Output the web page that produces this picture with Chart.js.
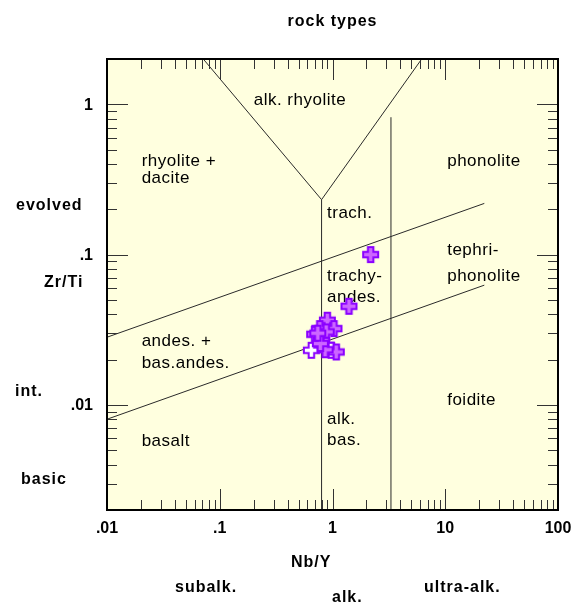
<!DOCTYPE html>
<html>
<head>
<meta charset="utf-8">
<script src="https://cdn.jsdelivr.net/npm/chart.js@4/dist/chart.umd.min.js"></script>
<style>
  html, body { margin: 0; padding: 0; background: #fff; }
  #wrap { width: 575px; height: 606px; }
</style>
</head>
<body>
<div id="wrap"><canvas id="rockChart" width="575" height="606"></canvas></div>
<script>
// samples (Nb/Y vs Zr/Ti)
const nbY    = [2.18, 1.40, 0.90, 0.771, 1.03, 0.88, 0.695, 0.796, 0.649, 0.88, 0.975, 1.08, 0.86, 0.78, 0.74];
const zrTi   = [0.100, 0.0453, 0.0366, 0.0322, 0.0322, 0.0306, 0.0295, 0.0269, 0.0231, 0.0249, 0.0231, 0.0225, 0.0233, 0.0256, 0.0300];
const openPt = [false, false, false, false, false, false, false, false, true, false, true, false, false, false, false];

// field boundaries [Nb/Y, Zr/Ti]
const leftBranch  = [[0.0714, 2], [0.8, 0.232]];
const rightBranch = [[0.8, 0.232], [6.18, 2]];
const alkLine     = [[0.8, 0.002], [0.8, 0.232]];
const ultraLine   = [[3.3, 0.002], [3.3, 0.82]];
const upperLine   = [[0.01, 0.0282], [22.2, 0.219]];
const lowerLine   = [[0.01, 0.00803], [22.2, 0.0626]];

// ticks
const xTickValues = [0.01, 0.1, 1, 10, 100];
const xTickLabels = ['.01', '.1', '1', '10', '100'];
const yTickValues = [0.01, 0.1, 1];
const yTickLabels = ['.01', '.1', '1'];

// field names, anchored in data coords (left, baseline)
const fieldNames = ['alk. rhyolite', 'rhyolite +', 'dacite', 'phonolite', 'trach.', 'tephri-', 'phonolite',
  'trachy-', 'andes.', 'andes. +', 'bas.andes.', 'basalt', 'foidite', 'alk.', 'bas.'];
const fieldX = [0.2, 0.0203, 0.0203, 10.4, 0.894, 10.4, 10.4, 0.894, 0.894, 0.0203, 0.0203, 0.0203, 10.4, 0.894, 0.894];
const fieldY = [0.989, 0.386, 0.300, 0.386, 0.176, 0.0994, 0.0669, 0.0669, 0.0486, 0.0248, 0.0176, 0.00535, 0.01005, 0.00741, 0.0054];

const toXY = arr => arr.map(p => ({ x: p[0], y: p[1] }));

function plusIcon(fill) {
  const c = document.createElement('canvas');
  c.width = 19; c.height = 19;
  const g = c.getContext('2d');
  const m = 9.5, a = 7.5, b = 2.75;
  g.beginPath();
  g.moveTo(m - b, m - a); g.lineTo(m + b, m - a); g.lineTo(m + b, m - b); g.lineTo(m + a, m - b);
  g.lineTo(m + a, m + b); g.lineTo(m + b, m + b); g.lineTo(m + b, m + a); g.lineTo(m - b, m + a);
  g.lineTo(m - b, m + b); g.lineTo(m - a, m + b); g.lineTo(m - a, m - b); g.lineTo(m - b, m - b);
  g.closePath();
  g.fillStyle = fill; g.fill();
  g.strokeStyle = '#8a00ff'; g.lineWidth = 2; g.stroke();
  return c;
}
const filledPlus = plusIcon('#cc66ff');
const openPlus = plusIcon('#ffffff');

const boundary = data => ({
  data: toXY(data), showLine: true, pointRadius: 0, borderColor: '#2a2a2a', borderWidth: 1, order: 2,
});

const fieldsPlugin = {
  id: 'fields',
  beforeDraw(chart) {
    const { ctx, chartArea: a } = chart;
    ctx.save();
    ctx.fillStyle = '#ffffdf';
    ctx.fillRect(a.left, a.top, a.right - a.left, a.bottom - a.top);
    ctx.restore();
  },
  beforeDatasetsDraw(chart) {
    const { ctx, scales: { x, y } } = chart;
    ctx.save();
    ctx.font = '17px "Liberation Sans", Arial, sans-serif';
    ctx.letterSpacing = '0.5px';
    ctx.fillStyle = '#000';
    ctx.textAlign = 'left';
    ctx.textBaseline = 'alphabetic';
    fieldNames.forEach((t, i) => ctx.fillText(t, x.getPixelForValue(fieldX[i]), y.getPixelForValue(fieldY[i])));
    ctx.restore();
  },
  afterDraw(chart) {
    const { ctx, chartArea: a, scales: { x, y } } = chart;
    ctx.save();
    ctx.strokeStyle = '#333';
    ctx.lineWidth = 1;
    ctx.beginPath();
    for (let d = -3; d <= 2; d++) {
      for (let k = 1; k <= 9; k++) {
        const v = k * Math.pow(10, d);
        const len = k === 1 ? 21 : 10;
        if (v > x.min * 1.0001 && v < x.max * 0.9999) {
          const px = Math.round(x.getPixelForValue(v)) + 0.5;
          ctx.moveTo(px, a.bottom); ctx.lineTo(px, a.bottom - len);
          ctx.moveTo(px, a.top); ctx.lineTo(px, a.top + len);
        }
        if (v > y.min * 1.0001 && v < y.max * 0.9999) {
          const py = Math.round(y.getPixelForValue(v)) + 0.5;
          ctx.moveTo(a.left, py); ctx.lineTo(a.left + len, py);
          ctx.moveTo(a.right, py); ctx.lineTo(a.right - len, py);
        }
      }
    }
    ctx.stroke();

    ctx.strokeStyle = '#000';
    ctx.lineWidth = 2;
    ctx.strokeRect(a.left, a.top, a.right - a.left, a.bottom - a.top);

    ctx.fillStyle = '#000';
    ctx.font = 'bold 16px "Liberation Sans", Arial, sans-serif';
    ctx.letterSpacing = '0px';
    ctx.textAlign = 'center';
    ctx.textBaseline = 'alphabetic';
    xTickValues.forEach((v, i) => ctx.fillText(xTickLabels[i], x.getPixelForValue(v), a.bottom + 23));
    ctx.textAlign = 'right';
    ctx.textBaseline = 'middle';
    yTickValues.forEach((v, i) => ctx.fillText(yTickLabels[i], a.left - 14, y.getPixelForValue(v) + 1));

    ctx.letterSpacing = '1px';
    ctx.textBaseline = 'alphabetic';
    ctx.textAlign = 'center';
    ctx.fillText('rock types', (a.left + a.right) / 2, 26);
    ctx.textAlign = 'left';
    ctx.fillText('evolved', 16, 210);
    ctx.fillText('Zr/Ti', 44, 287);
    ctx.fillText('int.', 15, 396);
    ctx.fillText('basic', 21, 484);
    ctx.fillText('Nb/Y', 291, 567);
    ctx.fillText('subalk.', 175, 592);
    ctx.fillText('alk.', 332, 602);
    ctx.fillText('ultra-alk.', 424, 592);
    ctx.restore();
  },
};

new Chart(document.getElementById('rockChart'), {
  type: 'scatter',
  data: {
    datasets: [
      {
        data: nbY.map((v, i) => ({ x: v, y: zrTi[i] })),
        pointStyle: openPt.map(o => (o ? openPlus : filledPlus)),
        pointRadius: 8,
        order: 0,
      },
      boundary(leftBranch),
      boundary(rightBranch),
      boundary(alkLine),
      boundary(ultraLine),
      boundary(upperLine),
      boundary(lowerLine),
    ],
  },
  options: {
    responsive: false,
    animation: false,
    devicePixelRatio: 1,
    layout: { padding: { left: 107, right: 17, top: 59, bottom: 96 } },
    plugins: { legend: { display: false }, tooltip: { enabled: false } },
    scales: {
      x: { type: 'logarithmic', min: 0.01, max: 100, display: false },
      y: { type: 'logarithmic', min: 0.002, max: 2, display: false },
    },
  },
  plugins: [fieldsPlugin],
});
</script>
</body>
</html>
